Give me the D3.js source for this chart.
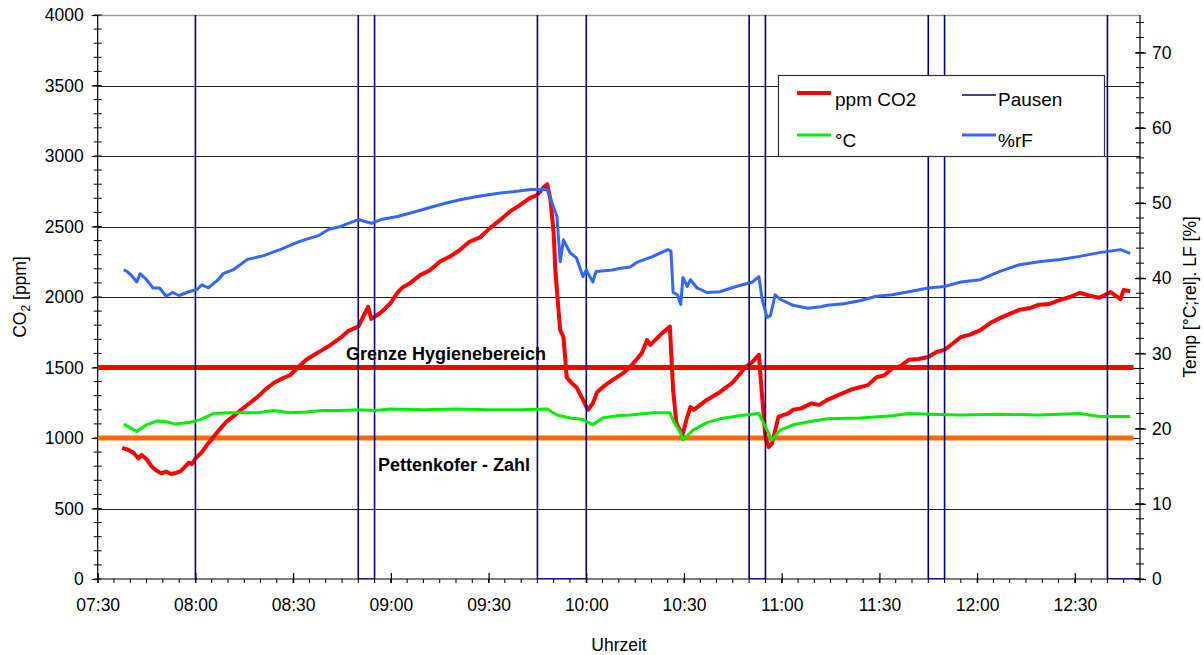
<!DOCTYPE html>
<html>
<head>
<meta charset="utf-8">
<script src="https://cdn.jsdelivr.net/npm/d3@7"></script>
<style>
  html, body { margin: 0; padding: 0; background: #fff; }
  svg { display: block; font-family: "Liberation Sans", Arial, sans-serif; }
</style>
</head>
<body>
<svg id="chart" width="1204" height="655"></svg>
<script>
// CO2 concentration in the classroom [ppm], logger readings
const co2 = [
  ["07:37:30",930],["07:39:30",915],["07:41:00",895],["07:42:30",855],["07:43:30",880],
  ["07:45:00",850],["07:46:30",800],["07:48:00",770],["07:49:30",750],["07:51:00",762],
  ["07:52:30",745],["07:54:00",752],["07:55:30",765],["07:57:00",800],["07:58:00",825],
  ["07:59:00",815],["08:00:00",855],["08:02:00",900],["08:03:30",950],["08:05:00",990],
  ["08:06:30",1035],["08:08:00",1075],["08:09:30",1115],["08:12:00",1160],["08:14:00",1200],
  ["08:16:30",1245],["08:19:00",1290],["08:21:30",1345],["08:24:00",1390],["08:26:30",1420],
  ["08:29:00",1445],["08:31:30",1500],["08:34:00",1555],["08:36:30",1590],["08:39:00",1625],
  ["08:41:30",1660],["08:44:30",1710],["08:47:00",1760],["08:50:00",1790],["08:51:30",1860],
  ["08:53:00",1930],["08:54:00",1845],["08:55:00",1860],["08:56:40",1885],["08:58:20",1920],
  ["08:59:50",1955],["09:02:00",2030],["09:03:40",2070],["09:06:00",2100],["09:09:00",2155],
  ["09:12:00",2190],["09:15:00",2250],["09:18:00",2285],["09:21:00",2330],["09:24:00",2390],
  ["09:27:30",2425],["09:30:30",2490],["09:33:30",2545],["09:36:30",2605],["09:39:30",2650],
  ["09:42:30",2700],["09:45:00",2725],["09:47:00",2780],["09:48:00",2800],["09:49:00",2690],
  ["09:50:00",2450],["09:50:30",2190],["09:51:30",1900],["09:52:00",1765],["09:53:00",1715],
  ["09:54:00",1430],["09:55:30",1390],["09:57:00",1360],["09:59:00",1270],["10:00:30",1200],
  ["10:02:00",1245],["10:03:20",1325],["10:05:00",1360],["10:08:00",1410],["10:11:20",1460],
  ["10:13:30",1505],["10:15:00",1545],["10:17:00",1600],["10:18:40",1695],["10:19:40",1660],
  ["10:22:40",1730],["10:25:40",1790],["10:26:40",1340],["10:27:40",1105],["10:29:30",1020],
  ["10:31:00",1150],["10:32:00",1220],["10:33:00",1200],["10:37:00",1270],["10:41:00",1325],
  ["10:45:00",1395],["10:49:00",1505],["10:51:00",1540],["10:53:00",1590],["10:54:00",1290],
  ["10:55:00",1005],["10:56:00",935],["10:57:00",960],["10:59:00",1150],["11:02:00",1175],
  ["11:03:30",1200],["11:06:00",1210],["11:09:00",1245],["11:11:30",1235],["11:14:00",1270],
  ["11:16:30",1295],["11:19:00",1320],["11:21:30",1345],["11:24:00",1360],["11:26:30",1375],
  ["11:29:00",1430],["11:31:30",1445],["11:34:00",1495],["11:36:30",1510],["11:39:00",1555],
  ["11:42:00",1560],["11:45:00",1575],["11:47:30",1610],["11:50:00",1625],["11:52:30",1670],
  ["11:55:00",1715],["11:58:00",1735],["12:01:00",1765],["12:04:00",1815],["12:07:00",1850],
  ["12:10:00",1880],["12:13:00",1910],["12:16:00",1920],["12:19:00",1945],["12:22:00",1950],
  ["12:25:30",1980],["12:28:30",2000],["12:31:30",2030],["12:34:30",2010],["12:37:30",1995],
  ["12:41:00",2035],["12:44:00",1985],["12:45:00",2050],["12:47:00",2040]
];

// Air temperature [°C]
const temperature = [
  ["07:38:00",20.6],["07:42:00",19.6],["07:45:00",20.5],["07:48:00",21.0],["07:51:00",20.9],
  ["07:54:00",20.6],["07:58:00",20.8],["08:01:30",21.2],["08:05:30",22.0],["08:10:30",22.1],
  ["08:14:00",22.1],["08:19:00",22.1],["08:24:00",22.4],["08:29:00",22.1],["08:34:00",22.2],
  ["08:39:00",22.4],["08:44:30",22.4],["08:50:00",22.5],["08:55:00",22.4],["09:00:00",22.6],
  ["09:10:00",22.5],["09:20:00",22.6],["09:30:00",22.5],["09:40:00",22.5],["09:48:00",22.6],
  ["09:51:00",21.8],["09:55:00",21.4],["09:59:00",21.2],["10:02:00",20.5],["10:05:00",21.4],
  ["10:09:30",21.7],["10:13:30",21.8],["10:20:30",22.1],["10:25:40",22.1],["10:27:00",20.8],
  ["10:29:00",19.4],["10:29:40",18.5],["10:32:50",19.8],["10:37:00",20.8],["10:41:00",21.3],
  ["10:47:00",21.7],["10:53:00",22.0],["10:55:30",19.8],["10:57:00",18.5],["10:59:30",19.8],
  ["11:03:30",20.5],["11:09:40",21.0],["11:14:00",21.3],["11:24:00",21.4],["11:34:00",21.7],
  ["11:39:00",22.0],["11:45:00",21.9],["11:55:00",21.8],["12:07:00",21.9],["12:19:00",21.8],
  ["12:31:30",22.0],["12:37:30",21.6],["12:47:00",21.6]
];

// Relative humidity [%]
const humidity = [
  ["07:38:00",41.1],["07:39:00",40.9],["07:40:30",40.3],["07:42:00",39.5],["07:43:00",40.6],
  ["07:45:00",39.8],["07:47:00",38.7],["07:49:00",38.7],["07:51:00",37.6],["07:53:00",38.1],
  ["07:55:00",37.7],["07:58:00",38.2],["08:00:30",38.5],["08:02:00",39.1],["08:04:00",38.7],
  ["08:07:00",39.8],["08:08:30",40.6],["08:11:30",41.1],["08:16:00",42.5],["08:21:00",43.0],
  ["08:24:00",43.5],["08:26:00",43.8],["08:32:00",44.9],["08:38:00",45.7],["08:41:00",46.5],
  ["08:44:00",46.8],["08:50:00",47.8],["08:54:00",47.3],["08:57:00",47.8],["09:02:00",48.2],
  ["09:08:00",48.9],["09:12:00",49.4],["09:17:00",50.0],["09:22:00",50.5],["09:27:00",50.9],
  ["09:33:00",51.3],["09:37:30",51.5],["09:43:00",51.8],["09:48:00",51.8],["09:49:30",50.0],
  ["09:51:00",48.2],["09:52:00",42.2],["09:53:00",45.1],["09:55:00",43.4],["09:57:00",42.7],
  ["09:59:00",40.2],["10:00:00",41.1],["10:02:00",39.5],["10:03:00",40.9],["10:08:00",41.1],
  ["10:10:00",41.3],["10:13:30",41.5],["10:15:30",42.1],["10:20:30",42.9],["10:25:00",43.8],
  ["10:26:00",43.6],["10:26:40",38.1],["10:28:00",37.8],["10:29:00",36.5],["10:29:40",40.1],
  ["10:31:00",38.9],["10:32:00",39.8],["10:34:00",38.7],["10:37:00",38.1],["10:41:00",38.2],
  ["10:46:00",38.9],["10:51:00",39.5],["10:53:00",40.2],["10:54:00",37.2],["10:55:30",34.8],
  ["10:56:30",35.0],["10:58:00",37.8],["10:59:30",37.2],["11:03:30",36.4],["11:08:00",36.0],
  ["11:12:00",36.2],["11:14:00",36.4],["11:19:00",36.6],["11:24:00",37.0],["11:29:00",37.6],
  ["11:34:00",37.8],["11:39:00",38.2],["11:45:00",38.7],["11:50:00",38.9],["11:55:00",39.5],
  ["12:01:00",39.8],["12:07:00",40.9],["12:13:00",41.8],["12:19:00",42.2],["12:25:30",42.5],
  ["12:31:30",42.9],["12:37:30",43.4],["12:44:00",43.8],["12:47:00",43.3]
];

// Breaks: 0 = break (window open), lessons sit far above the CO2 scale
const pausen = [
  ["08:00:00",0],["08:00:00",5000],["08:50:00",5000],["08:50:00",0],["08:55:00",0],
  ["08:55:00",5000],["09:45:00",5000],["09:45:00",0],["10:00:00",0],["10:00:00",5000],
  ["10:50:00",5000],["10:50:00",0],["10:55:00",0],["10:55:00",5000],["11:45:00",5000],
  ["11:45:00",0],["11:50:00",0],["11:50:00",5000],["12:40:00",5000],["12:40:00",0],
  ["12:50:00",0]
];

// Reference limits [ppm]
const grenzeHygiene = [["07:30:00",1500],["12:48:00",1500]];
const pettenkofer = [["07:30:00",1000],["12:48:00",1000]];

// Axis ticks
const co2Ticks = [0,500,1000,1500,2000,2500,3000,3500,4000];
const rightTicks = [0,10,20,30,40,50,60,70];
const timeTickLabels = ["07:30","08:00","08:30","09:00","09:30","10:00","10:30","11:00","11:30","12:00","12:30"];

const parseT = d3.timeParse("%H:%M:%S");
const parseHM = d3.timeParse("%H:%M");

const svg = d3.select("#chart");
const L = 97.7, R = 1140, T = 15, B = 579;

const x = d3.scaleTime().domain([parseHM("07:30"), parseHM("12:50")]).range([L, R]);
const y = d3.scaleLinear().domain([0, 4000]).range([B, T]);
const y2 = d3.scaleLinear().domain([0, 75]).range([B, T]);

svg.append("defs").append("clipPath").attr("id", "plot")
  .append("rect").attr("x", L).attr("y", T).attr("width", R - L).attr("height", B - T);

// Horizontal gridlines
const grid = svg.append("g");
grid.selectAll("line").data(co2Ticks.filter(v => v > 0)).join("line")
  .attr("x1", L).attr("x2", R)
  .attr("y1", d => Math.round(y(d)) + 0.5).attr("y2", d => Math.round(y(d)) + 0.5)
  .attr("stroke", d => d === 4000 ? "#9a9a9a" : "#222").attr("stroke-width", d => d === 4000 ? 1.5 : 1);

// Left axis
const leftAxis = svg.append("g").attr("transform", `translate(${L},0)`);
leftAxis.call(d3.axisLeft(y).tickValues(co2Ticks).tickFormat(d3.format("d")).tickSize(6).tickPadding(8));
leftAxis.append("g").selectAll("line").data(d3.range(0, 4001, 100)).join("line")
  .attr("x1", -4).attr("x2", 4).attr("y1", d => y(d)).attr("y2", d => y(d)).attr("stroke", "#000");

// Right axis
const rightAxis = svg.append("g").attr("transform", `translate(${R},0)`);
rightAxis.call(d3.axisRight(y2).tickValues(rightTicks).tickFormat(d3.format("d")).tickSize(6).tickPadding(6));
rightAxis.append("g").selectAll("line").data(d3.range(0, 75, 2)).join("line")
  .attr("x1", -4).attr("x2", 4).attr("y1", d => y2(d)).attr("y2", d => y2(d)).attr("stroke", "#000");
rightAxis.selectAll(".tick line").attr("x1", -5);

// Bottom axis
const timeTicks = timeTickLabels.map(parseHM);
const bottomAxis = svg.append("g").attr("transform", `translate(0,${B})`);
bottomAxis.call(d3.axisBottom(x).tickValues(timeTicks).tickFormat(d3.timeFormat("%H:%M")).tickSize(4).tickPadding(16));
bottomAxis.selectAll(".tick line").attr("y1", -6);
bottomAxis.append("g").selectAll("line")
  .data(d3.timeMinute.every(5).range(parseHM("07:30"), parseHM("12:51")))
  .join("line")
  .attr("x1", d => x(d)).attr("x2", d => x(d)).attr("y1", 0).attr("y2", 4).attr("stroke", "#000");

[leftAxis, rightAxis, bottomAxis].forEach(g => {
  g.select(".domain").attr("stroke", "#000").attr("stroke-width", 1.2);
  g.selectAll(".tick line").attr("stroke", "#000").attr("stroke-width", 1.2);
  g.selectAll(".tick text").attr("font-size", 17.5).attr("fill", "#000")
    .attr("font-family", "Liberation Sans, Arial, sans-serif");
});
leftAxis.select(".domain").attr("d", `M0,${B}V${T}`);
rightAxis.select(".domain").attr("d", `M0,${B}V${T}`);
bottomAxis.select(".domain").attr("d", `M${L},0H${R}`);

// Series
const plot = svg.append("g").attr("clip-path", "url(#plot)");
const lineL = d3.line().x(d => x(parseT(d[0]))).y(d => y(d[1]));
const lineR = d3.line().x(d => x(parseT(d[0]))).y(d => y2(d[1]));

plot.append("path").datum(pettenkofer).attr("d", lineL)
  .attr("fill", "none").attr("stroke", "#ff6a00").attr("stroke-width", 5);
plot.append("path").datum(grenzeHygiene).attr("d", lineL)
  .attr("fill", "none").attr("stroke", "#ff0000").attr("stroke-width", 5);
plot.append("path").datum(co2).attr("d", lineL)
  .attr("fill", "none").attr("stroke", "#ff0000").attr("stroke-width", 4).attr("stroke-linejoin", "round");
plot.append("path").datum(pausen).attr("d", lineL)
  .attr("fill", "none").attr("stroke", "#000080").attr("stroke-width", 1.6);
plot.append("path").datum(temperature).attr("d", lineR)
  .attr("fill", "none").attr("stroke", "#00ee00").attr("stroke-width", 3).attr("stroke-linejoin", "round");
plot.append("path").datum(humidity).attr("d", lineR)
  .attr("fill", "none").attr("stroke", "#3366ff").attr("stroke-width", 3).attr("stroke-linejoin", "round");

// Limit labels
svg.append("text").attr("x", 346).attr("y", 360).attr("font-size", 18).attr("font-weight", "bold")
  .text("Grenze Hygienebereich");
svg.append("text").attr("x", 378).attr("y", 471).attr("font-size", 18).attr("font-weight", "bold")
  .text("Pettenkofer - Zahl");

// Axis titles
svg.append("text").attr("transform", "translate(26,297) rotate(-90)").attr("text-anchor", "middle")
  .attr("font-size", 17.5)
  .call(t => {
    t.append("tspan").text("CO");
    t.append("tspan").attr("font-size", 12).attr("dy", 4).text("2");
    t.append("tspan").attr("dy", -4).text(" [ppm]");
  });
svg.append("text").attr("transform", "translate(1196,297) rotate(-90)").attr("text-anchor", "middle")
  .attr("font-size", 17.5).text("Temp [°C;rel]. LF [%]");
svg.append("text").attr("x", 619).attr("y", 651).attr("text-anchor", "middle")
  .attr("font-size", 17.5).text("Uhrzeit");

// Legend
const legendItems = [
  { name: "ppm CO2", color: "#ff0000", width: 4, lx: 797, ly: 93, tx: 835, ty: 106 },
  { name: "Pausen", color: "#000080", width: 1.6, lx: 962, ly: 95, tx: 998, ty: 106 },
  { name: "°C", color: "#00ee00", width: 3, lx: 797, ly: 135, tx: 835, ty: 147 },
  { name: "%rF", color: "#3366ff", width: 3, lx: 962, ly: 135, tx: 998, ty: 147 }
];
const legend = svg.append("g");
legend.append("rect").attr("x", 778.5).attr("y", 75.5).attr("width", 326).attr("height", 81)
  .attr("fill", "#fff").attr("stroke", "#333").attr("stroke-width", 1.2);
legendItems.forEach(it => {
  legend.append("line").attr("x1", it.lx).attr("x2", it.lx + 34).attr("y1", it.ly).attr("y2", it.ly)
    .attr("stroke", it.color).attr("stroke-width", it.width);
  legend.append("text").attr("x", it.tx).attr("y", it.ty).attr("font-size", 19).text(it.name);
});
</script>
</body>
</html>
